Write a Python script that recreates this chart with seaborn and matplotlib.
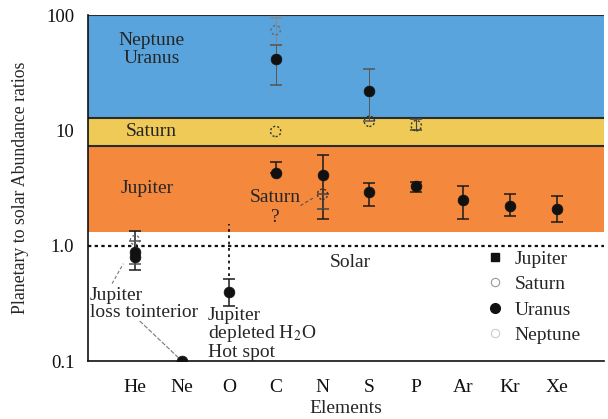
import numpy as np
import pandas as pd
import matplotlib
matplotlib.use("Agg")
import matplotlib.pyplot as plt
from matplotlib.lines import Line2D
import seaborn as sns

sns.set_theme(style="white")
plt.rcParams["font.family"] = ["Liberation Serif", "DejaVu Serif"]
plt.rcParams["mathtext.fontset"] = "stix"

elements = ["He", "Ne", "O", "C", "N", "S", "P", "Ar", "Kr", "Xe"]

# Measured enrichments relative to solar (value, lower, upper)
jupiter_el = ["He", "Ne", "O", "C", "N", "S", "P", "Ar", "Kr", "Xe"]
jupiter_val = [0.80, 0.10, 0.40, 4.3, 4.1, 2.9, 3.3, 2.5, 2.2, 2.1]
jupiter_lo = [0.62, 0.10, 0.30, 4.3, 1.7, 2.2, 2.9, 1.7, 1.8, 1.6]
jupiter_hi = [1.35, 0.10, 0.52, 5.3, 6.1, 3.5, 3.6, 3.3, 2.8, 2.7]

saturn_el = ["C", "N", "S", "P"]
saturn_val = [9.8, 2.8, 12.0, 11.0]
saturn_lo = [9.8, 2.1, 12.0, 10.0]
saturn_hi = [9.8, 2.8, 12.0, 12.5]

uranus_el = ["He", "C", "S"]
uranus_val = [0.88, 42.0, 22.0]
uranus_lo = [0.70, 25.0, 12.0]
uranus_hi = [1.10, 55.0, 34.0]

neptune_el = ["He", "C"]
neptune_val = [1.12, 74.0]
neptune_lo = [1.12, 55.0]
neptune_hi = [1.12, 95.0]

# Composition zones
zone_names = ["Neptune\nUranus", "Saturn", "Jupiter"]
zone_lo = [12.7, 7.26, 1.32]
zone_hi = [100.0, 12.7, 7.26]
zone_colors = ["#59a4dc", "#efca57", "#f4883d"]

pos = {e: i + 1 for i, e in enumerate(elements)}

frames = []
for name, els, v, lo, hi in [
    ("Jupiter", jupiter_el, jupiter_val, jupiter_lo, jupiter_hi),
    ("Saturn", saturn_el, saturn_val, saturn_lo, saturn_hi),
    ("Uranus", uranus_el, uranus_val, uranus_lo, uranus_hi),
    ("Neptune", neptune_el, neptune_val, neptune_lo, neptune_hi),
]:
    frames.append(pd.DataFrame({"planet": name, "element": els, "x": [pos[e] for e in els],
                                "value": v, "lo": lo, "hi": hi}))
df = pd.concat(frames, ignore_index=True)

fig = plt.figure(figsize=(6.08, 4.19), dpi=100)
ax = fig.add_axes([0.145, 0.138, 0.848, 0.826])
ax.set_yscale("log")
ax.set_xlim(0, 11)
ax.set_ylim(0.1, 100)

for lo, hi, c in zip(zone_lo, zone_hi, zone_colors):
    ax.axhspan(lo, hi, color=c, lw=0, zorder=0)
for b in [100.0, 12.7, 7.26]:
    ax.axhline(b, color="#2b2b2b", lw=1.5, zorder=1)

# Solar reference and the oxygen hot-spot marker
ax.axhline(1.0, color="#111111", lw=1.6, ls=(0, (1.5, 1.5)), zorder=2)
ax.plot([pos["O"], pos["O"]], [0.55, 1.55], color="#111111", lw=1.3, ls=(0, (1.5, 2)), zorder=2)

styles = {
    "Jupiter": dict(ecolor="#1a1a1a", elw=1.1),
    "Saturn": dict(ecolor="#444444", elw=0.8),
    "Uranus": dict(ecolor="#555555", elw=0.7),
    "Neptune": dict(ecolor="#888888", elw=0.6),
}
for planet, sub in df.groupby("planet"):
    st = styles[planet]
    keep = sub[sub["hi"] > sub["lo"]]
    ax.errorbar(keep["x"], keep["value"],
                yerr=[keep["value"] - keep["lo"], keep["hi"] - keep["value"]],
                fmt="none", ecolor=st["ecolor"], elinewidth=st["elw"], capsize=4, capthick=1.1, zorder=3)

filled = df[df["planet"].isin(["Jupiter", "Uranus"])]
sns.scatterplot(data=filled, x="x", y="value", color="#111111", s=60, marker="o",
                edgecolor="#111111", linewidth=0.5, legend=False, ax=ax, zorder=4)
sat = df[df["planet"] == "Saturn"]
ax.scatter(sat["x"], sat["value"], s=55, facecolors="none", edgecolors="#333333",
           linewidths=1.0, linestyle=(0, (1.5, 1.5)), zorder=4)
nep = df[df["planet"] == "Neptune"]
ax.scatter(nep["x"], nep["value"], s=45, facecolors="none", edgecolors="#666666",
           linewidths=0.9, linestyle=(0, (2, 2)), zorder=4)

fs = 14
ax.text(1.35, 50, "Neptune\nUranus", fontsize=fs, ha="center", va="center", linespacing=1.1)
ax.text(1.35, 9.7, "Saturn", fontsize=fs, ha="center", va="center")
ax.text(1.25, 3.15, "Jupiter", fontsize=fs, ha="center", va="center")
ax.text(4.0, 2.15, "Saturn\n?", fontsize=fs, ha="center", va="center", linespacing=1.3)
ax.plot([4.53, 4.8], [2.23, 2.6], color="#555555", lw=0.8, ls=(0, (3, 2)), zorder=3)
ax.text(5.6, 0.71, "Solar", fontsize=fs, ha="center", va="center")
ax.text(0.03, 0.315, "Jupiter\nloss tointerior", fontsize=fs, ha="left", va="center", linespacing=1.0)
ax.plot([0.51, 0.75], [0.47, 0.70], color="#777777", lw=0.8, ls=(0, (3, 2)), zorder=3)
ax.plot([1.1, 1.96], [0.223, 0.104], color="#777777", lw=0.8, ls=(0, (4, 1.5)), zorder=3)
ax.text(2.55, 0.172, "Jupiter\ndepleted H$_2$O\nHot spot", fontsize=fs, ha="left", va="center",
        linespacing=0.95)

ax.set_xticks(range(1, 11))
ax.set_xticklabels(elements, fontsize=14)
ax.set_yticks([0.1, 1, 10, 100])
ax.set_yticklabels(["0.1", "1.0", "10", "100"], fontsize=13.5)
ax.yaxis.set_minor_locator(matplotlib.ticker.NullLocator())
ax.tick_params(axis="x", direction="in", length=5, width=1, pad=13, colors="#111111")
ax.tick_params(axis="y", direction="out", length=4, width=1, pad=6, colors="#111111")
ax.set_xlabel("Elements", fontsize=14, labelpad=3)
ax.set_ylabel("Planetary to solar Abundance ratios", fontsize=12.8, labelpad=12)

for s in ["top", "right"]:
    ax.spines[s].set_visible(False)
for s in ["left", "bottom"]:
    ax.spines[s].set_color("#111111")
    ax.spines[s].set_linewidth(1.2)

handles = [
    Line2D([], [], marker="s", ls="none", color="#111111", markersize=6),
    Line2D([], [], marker="o", ls="none", markerfacecolor="none", markeredgecolor="#999999",
           markersize=6, markeredgewidth=0.8),
    Line2D([], [], marker="o", ls="none", color="#111111", markersize=7),
    Line2D([], [], marker="o", ls="none", markerfacecolor="none", markeredgecolor="#cccccc",
           markersize=6, markeredgewidth=0.8),
]
ax.legend(handles, ["Jupiter", "Saturn", "Uranus", "Neptune"], loc="upper left",
          bbox_to_anchor=(0.74, 0.36), frameon=False, fontsize=14, handletextpad=0.4,
          labelspacing=0.4, handlelength=1.2, borderpad=0.2)

fig.savefig("out.png", dpi=100)
